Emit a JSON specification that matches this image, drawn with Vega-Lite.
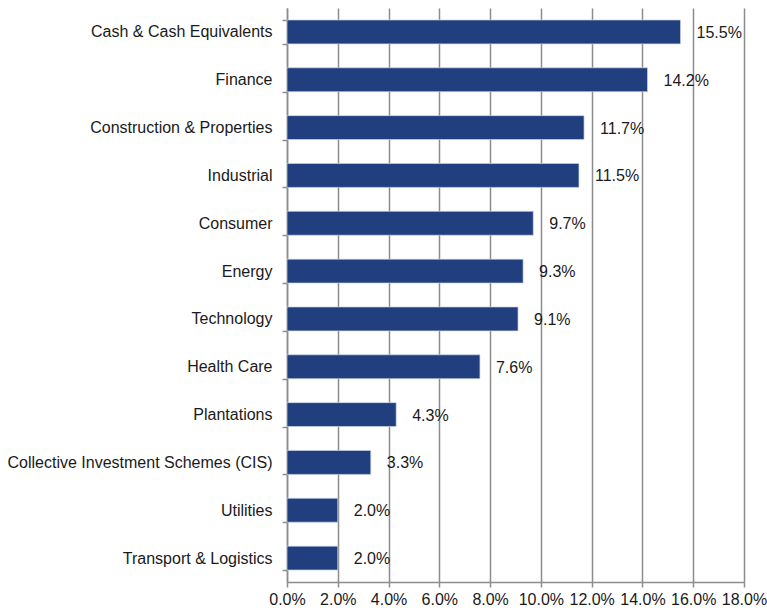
{
  "$schema": "https://vega.github.io/schema/vega-lite/v6.json",
  "width": 457,
  "height": 574,
  "autosize": {"type": "none"},
  "padding": {"left": 287, "top": 8, "right": 23, "bottom": 28},
  "background": "white",
  "config": {
    "view": {"stroke": null},
    "font": "Liberation Sans",
    "axis": {"labelFont": "Liberation Sans", "labelFontSize": 16, "labelColor": "#1a1a1a"}
  },
  "data": {
    "values": [
      {"sector": "Cash & Cash Equivalents", "value": 0.155},
      {"sector": "Finance", "value": 0.142},
      {"sector": "Construction & Properties", "value": 0.117},
      {"sector": "Industrial\u00a0", "value": 0.115},
      {"sector": "Consumer", "value": 0.097},
      {"sector": "Energy", "value": 0.093},
      {"sector": "Technology", "value": 0.091},
      {"sector": "Health Care", "value": 0.076},
      {"sector": "Plantations", "value": 0.043},
      {"sector": "Collective Investment Schemes (CIS)", "value": 0.033},
      {"sector": "Utilities", "value": 0.020},
      {"sector": "Transport & Logistics", "value": 0.020}
    ]
  },
  "encoding": {
    "y": {
      "field": "sector",
      "type": "nominal",
      "sort": null,
      "scale": {"paddingInner": 0.5, "paddingOuter": 0.25},
      "axis": {
        "title": null,
        "tickBand": "extent",
        "tickSize": 5,
        "tickColor": "#8c8c8c",
        "tickWidth": 1.5,
        "domainColor": "#8c8c8c",
        "domainWidth": 1.5,
        "labelPadding": 10,
        "labelLimit": 0,
        "grid": false
      }
    },
    "x": {
      "field": "value",
      "type": "quantitative",
      "scale": {"domain": [0, 0.18], "nice": false},
      "axis": {
        "title": null,
        "format": ".1%",
        "values": [0, 0.02, 0.04, 0.06, 0.08, 0.1, 0.12, 0.14, 0.16, 0.18],
        "grid": true,
        "gridColor": "#8c8c8c",
        "gridWidth": 1.5,
        "tickSize": 5,
        "tickColor": "#8c8c8c",
        "tickWidth": 1.5,
        "domainColor": "#8c8c8c",
        "domainWidth": 1.5,
        "labelPadding": 4,
        "labelFlush": false
      }
    }
  },
  "layer": [
    {
      "mark": {"type": "bar", "color": "#213f7e", "stroke": "#c9d5ea", "strokeWidth": 0.7}
    },
    {
      "mark": {"type": "text", "align": "left", "dx": 16, "dy": 1, "fontSize": 16, "color": "#1a1a1a", "font": "Liberation Sans"},
      "encoding": {"text": {"field": "value", "type": "quantitative", "format": ".1%"}}
    }
  ]
}
